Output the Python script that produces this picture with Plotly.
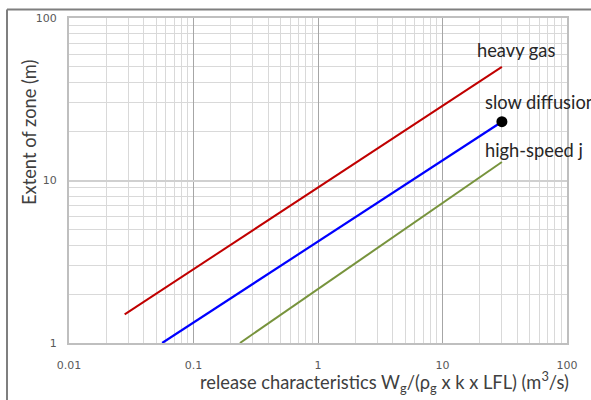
import math
import plotly.graph_objects as go

# ---- data ----
heavy_gas_x = [0.028, 30]
heavy_gas_y = [1.5, 50]
slow_diff_x = [0.056, 30]
slow_diff_y = [1.0, 23]
jet_x = [0.236, 30]
jet_y = [1.0, 13]
dot_x = [30]
dot_y = [23]

x_tick_vals = [0.01, 0.1, 1, 10, 100]
x_tick_text = ["0.01", "0.1", "1", "10", "100"]
y_tick_vals = [1, 10, 100]
y_tick_text = ["1", "10", "100"]

labels = ["heavy gas", "slow diffusion", "high-speed j"]

# ---- layout geometry (viewport pixels; body margin removed in post_script) ----
W, H = 591, 400
PL, PR, PT, PB = 69, 567, 18, 343          # plot area in pixels
L, R, T, B = PL, W - PR, PT, H - PB
PW, PH = W - L - R, H - T - B


def px(x):
    return (x - PL) / PW


def py(y):
    return (PB - y) / PH


fig = go.Figure()
fig.add_trace(go.Scatter(x=heavy_gas_x, y=heavy_gas_y, mode="lines",
                         line=dict(color="#c00000", width=2), showlegend=False))
fig.add_trace(go.Scatter(x=slow_diff_x, y=slow_diff_y, mode="lines",
                         line=dict(color="#0000ff", width=2.2), showlegend=False))
fig.add_trace(go.Scatter(x=jet_x, y=jet_y, mode="lines",
                         line=dict(color="#77933c", width=2), showlegend=False))
fig.add_trace(go.Scatter(x=dot_x, y=dot_y, mode="markers",
                         marker=dict(color="black", size=11), showlegend=False))

tickfont = dict(family="DejaVu Sans", size=11, color="#595959")
titlefont = dict(family="Lato", size=18.3, color="#404040")

fig.update_xaxes(type="log", range=[-2, 2], tickvals=x_tick_vals, ticktext=x_tick_text,
                 tickfont=tickfont, ticks="", ticklen=0, ticklabelstandoff=11,
                 showgrid=True, gridcolor="#a6a6a6", gridwidth=1,
                 minor=dict(dtick="D1", showgrid=True, gridcolor="#d9d9d9", gridwidth=1, ticks=""),
                 showline=True, linecolor="#bfbfbf", linewidth=2, mirror=True,
                 zeroline=False)
fig.update_yaxes(type="log", range=[0, 2], tickvals=y_tick_vals, ticktext=y_tick_text,
                 tickfont=tickfont, ticks="", ticklen=0, ticklabelstandoff=8,
                 showgrid=True, gridcolor="#d0d0d0", gridwidth=2,
                 minor=dict(dtick="D1", showgrid=True, gridcolor="#d9d9d9", gridwidth=1, ticks=""),
                 showline=True, linecolor="#bfbfbf", linewidth=2, mirror=True,
                 zeroline=False)

annots = [
    dict(text="release characteristics W<sub>g</sub>/(ρ<sub>g</sub> x k x LFL) (m<sup>3</sup>/s)",
         x=px(384), y=py(382), xanchor="center", yanchor="middle", font=titlefont),
    dict(text="Extent of zone (m)", x=px(29), y=py(133), xanchor="center", yanchor="middle",
         textangle=-90, font=titlefont),
]
label_pos = [(475, 50), (483, 102), (483, 150)]
for txt, (lx, ly) in zip(labels, label_pos):
    annots.append(dict(text=txt, x=px(lx), y=py(ly), xanchor="left", yanchor="middle",
                       font=dict(family="Lato", size=18.3, color="#262626")))
for a in annots:
    a.update(xref="paper", yref="paper", showarrow=False)

border = dict(color="#7f7f7f", width=2)
fig.update_layout(
    width=W, height=H,
    margin=dict(l=L, r=R, t=T, b=B, pad=0),
    paper_bgcolor="white", plot_bgcolor="white",
    annotations=annots,
    shapes=[
        dict(type="line", xref="paper", yref="paper", layer="above",
             x0=px(7), x1=px(W), y0=py(9.5), y1=py(9.5), line=border),
        dict(type="line", xref="paper", yref="paper", layer="above",
             x0=px(7), x1=px(7), y0=py(9.5), y1=py(H), line=border),
    ],
)

fig.write_html("out.html",
               config={"displayModeBar": False},
               post_script="document.body.style.margin='0';document.body.style.overflow='hidden';")
